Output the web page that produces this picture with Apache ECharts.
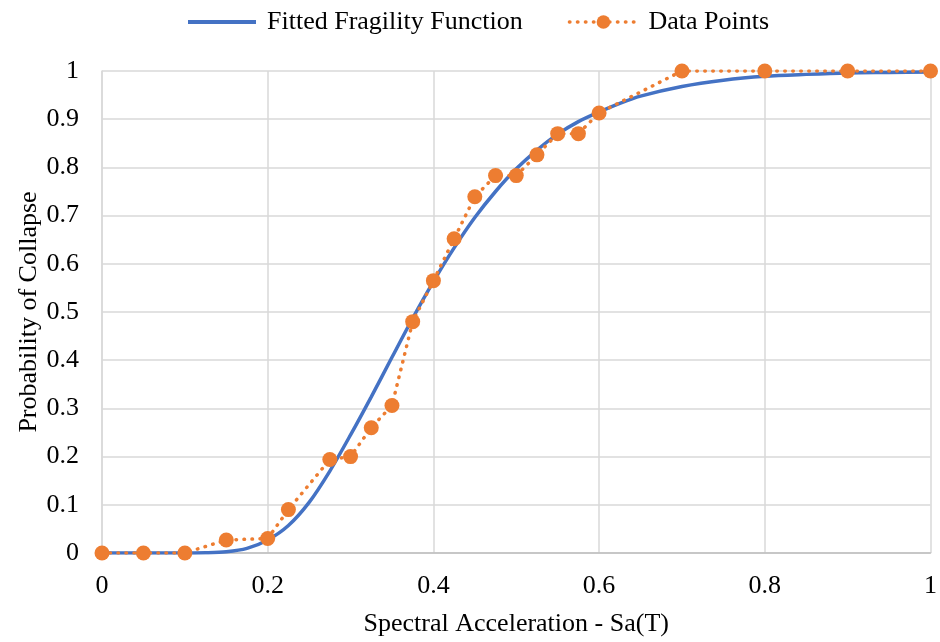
<!DOCTYPE html>
<html>
<head>
<meta charset="utf-8">
<script src="https://cdn.jsdelivr.net/npm/echarts@6/dist/echarts.min.js"></script>
<style>html,body{margin:0;padding:0;background:#fff}#c{width:940px;height:642px}</style>
</head>
<body>
<div id="c"></div>
<script>
// Fitted fragility curve
const fitX = [0, 0.025, 0.05, 0.075, 0.1, 0.125, 0.15, 0.175, 0.2, 0.225, 0.25, 0.275, 0.3, 0.325, 0.35, 0.375, 0.4, 0.425, 0.45, 0.475, 0.5, 0.525, 0.55, 0.575, 0.6, 0.625, 0.65, 0.7, 0.75, 0.8, 0.85, 0.9, 0.95, 1.0];
const fitY = [0, 0, 0, 0, 0.0001, 0.0005, 0.0025, 0.0095, 0.027, 0.057, 0.105, 0.17, 0.245, 0.324, 0.406, 0.487, 0.563, 0.633, 0.696, 0.75, 0.797, 0.836, 0.869, 0.895, 0.915, 0.933, 0.948, 0.968, 0.981, 0.989, 0.993, 0.996, 0.997, 0.998];
// Observed data points
const dataX = [0, 0.05, 0.1, 0.15, 0.2, 0.225, 0.275, 0.3, 0.325, 0.35, 0.375, 0.4, 0.425, 0.45, 0.475, 0.5, 0.525, 0.55, 0.575, 0.6, 0.7, 0.8, 0.9, 1.0];
const dataY = [0, 0, 0, 0.027, 0.03, 0.09, 0.194, 0.2, 0.26, 0.306, 0.48, 0.565, 0.652, 0.739, 0.783, 0.783, 0.826, 0.87, 0.87, 0.913, 1, 1, 1, 1];
const xTicks = ['0', '0.2', '0.4', '0.6', '0.8', '1'];
const seriesNames = ['Fitted Fragility Function', 'Data Points'];
const xTitle = 'Spectral Acceleration - Sa(T)';
const yTitle = 'Probability of Collapse';

const font = 'Liberation Serif, Times New Roman, serif';
const fs = 26;
const chart = echarts.init(document.getElementById('c'), null, {renderer: 'canvas'});
chart.setOption({
  animation: false,
  backgroundColor: '#fff',
  textStyle: {fontFamily: font},
  legend: {
    top: 4, left: 181,
    itemWidth: 68, itemHeight: 17, itemGap: 45,
    textStyle: {fontFamily: font, fontSize: fs, color: '#000', padding: [0, 0, 0, 6]},
    data: [
      {name: seriesNames[0], itemStyle: {opacity: 0}, lineStyle: {width: 4}},
      {name: seriesNames[1], lineStyle: {width: 3.5}}
    ]
  },
  grid: {left: 102, right: 7, top: 71, bottom: 86, containLabel: false},
  xAxis: {
    type: 'value', min: 0, max: 1, interval: 0.2,
    name: xTitle, nameLocation: 'middle', nameGap: 58, nameMoveOverlap: false,
    nameTextStyle: {fontFamily: font, fontSize: fs, color: '#000'},
    axisLine: {show: true, lineStyle: {color: '#bfbfbf', width: 1.5}},
    axisTick: {show: false},
    axisLabel: {fontFamily: font, fontSize: fs, color: '#000', margin: 20,
      formatter: v => xTicks[Math.round(v / 0.2)]},
    splitLine: {show: true, lineStyle: {color: '#d9d9d9', width: 1.5}}
  },
  yAxis: {
    type: 'value', min: 0, max: 1, interval: 0.1,
    name: yTitle, nameLocation: 'middle', nameGap: 60, nameRotate: 90, nameMoveOverlap: false,
    nameTextStyle: {fontFamily: font, fontSize: fs, color: '#000'},
    axisLine: {show: true, lineStyle: {color: '#d9d9d9', width: 1.5}},
    axisTick: {show: false},
    axisLabel: {fontFamily: font, fontSize: fs, color: '#000', margin: 23,
      formatter: v => (Math.round(v * 10) / 10).toString()},
    splitLine: {show: true, lineStyle: {color: '#d9d9d9', width: 1.5}}
  },
  series: [
    {
      name: seriesNames[0], type: 'line', smooth: 0.3, symbol: 'none', z: 2,
      data: fitX.map((x, i) => [x, fitY[i]]),
      lineStyle: {color: '#4472C4', width: 3.5},
      itemStyle: {color: '#4472C4'}
    },
    {
      name: seriesNames[1], type: 'line', smooth: false, z: 3,
      symbol: 'circle', symbolSize: 15,
      data: dataX.map((x, i) => [x, dataY[i]]),
      lineStyle: {color: '#ED7D31', width: 3.5, type: [0.5, 7.5], cap: 'round'},
      itemStyle: {color: '#ED7D31'}
    }
  ]
});
</script>
</body>
</html>
